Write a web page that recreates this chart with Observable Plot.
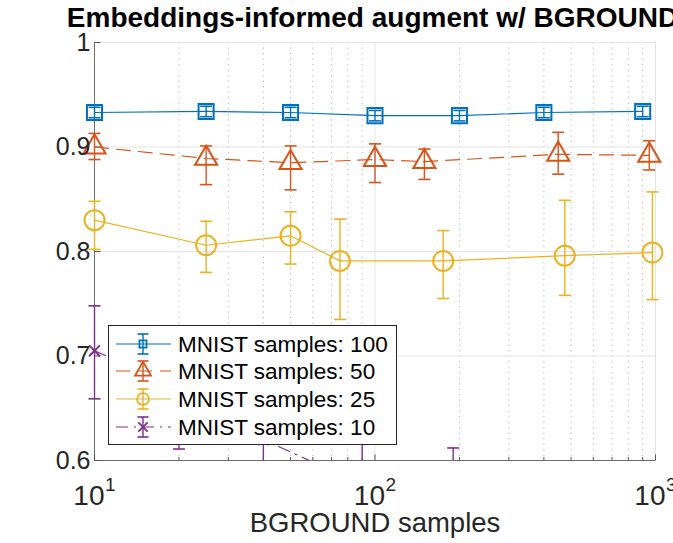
<!DOCTYPE html>
<html><head><meta charset="utf-8">
<script src="https://cdn.jsdelivr.net/npm/d3@7"></script>
<script src="https://cdn.jsdelivr.net/npm/@observablehq/plot@0.6"></script>
<style>
body{margin:0;background:#fff;}
#wrap{position:relative;width:673px;height:543px;overflow:hidden;background:#fff;font-family:"Liberation Sans",Arial,Helvetica,sans-serif;}
#legend{position:absolute;left:108px;top:325px;width:287px;height:118px;background:#fff;border:1px solid #262626;}
#legend svg{position:absolute;left:0;top:0;}
</style></head>
<body><div id="wrap"></div>
<script>
const title = "Embeddings-informed augment w/ BGROUND";
const xLabel = "BGROUND samples";
const seriesNames = ["MNIST samples: 100", "MNIST samples: 50", "MNIST samples: 25", "MNIST samples: 10"];
const colors = ["#0072BD", "#D95319", "#EDB120", "#7E2F8E"];
const symbols = ["square", "triangle", "circle", "times"];

// MNIST samples: 100
const x100 = [10, 25, 50, 100, 200, 400, 900];
const mean100 = [0.933, 0.934, 0.933, 0.930, 0.930, 0.933, 0.934];
const lo100 = [0.928, 0.929, 0.928, 0.925, 0.925, 0.928, 0.929];
const hi100 = [0.938, 0.939, 0.938, 0.935, 0.935, 0.938, 0.939];
// MNIST samples: 50
const x50 = [10, 25, 50, 100, 150, 450, 950];
const mean50 = [0.900, 0.889, 0.885, 0.888, 0.886, 0.893, 0.892];
const lo50 = [0.888, 0.864, 0.859, 0.866, 0.869, 0.874, 0.878];
const hi50 = [0.913, 0.901, 0.901, 0.903, 0.898, 0.914, 0.906];
// MNIST samples: 25
const x25 = [10, 25, 50, 75, 175, 475, 975];
const mean25 = [0.830, 0.806, 0.815, 0.791, 0.791, 0.796, 0.799];
const lo25 = [0.802, 0.780, 0.788, 0.735, 0.755, 0.758, 0.754];
const hi25 = [0.848, 0.829, 0.838, 0.831, 0.820, 0.849, 0.857];
// MNIST samples: 10
const x10 = [10, 20, 40, 90, 190];
const mean10 = [0.705, 0.670, 0.620, 0.577, 0.550];
const lo10 = [0.659, 0.611, 0.550, 0.520, 0.490];
const hi10 = [0.748, 0.710, 0.690, 0.635, 0.612];

const yTicks = [0.6, 0.7, 0.8, 0.9, 1];
const yGrid = [0.7, 0.8, 0.9, 1];
const xMajor = [10, 100, 1000];
const xMinor = [20, 30, 40, 50, 60, 70, 80, 90, 200, 300, 400, 500, 600, 700, 800, 900];
const yMin = 0.6, yMax = 1;

const seriesData = [
  [x100, mean100, lo100, hi100],
  [x50, mean50, lo50, hi50],
  [x25, mean25, lo25, hi25],
  [x10, mean10, lo10, hi10]
].map(([xs, ms, los, his]) => xs.map((x, i) => ({x, y: ms[i], lo: los[i], hi: his[i]})));

const dashes = [null, "14,8", null, "12,6,2,6"];
const radii = [8.5, 8.2, 10, 5];

const capSym = {draw(ctx) { ctx.moveTo(-6, 0); ctx.lineTo(6, 0); }};
const yTickSym = {draw(ctx) { ctx.moveTo(0, 0); ctx.lineTo(6, 0); }};
const xMajorSym = {draw(ctx) { ctx.moveTo(0, 0); ctx.lineTo(0, -6); }};
const xMinorSym = {draw(ctx) { ctx.moveTo(0, 0); ctx.lineTo(0, -3.5); }};
const inView = v => v >= yMin && v <= yMax;

const marks = [
  Plot.ruleX(xMinor, {stroke: "#c2c2c2", strokeWidth: 1, strokeDasharray: "1.5,4"}),
  Plot.ruleX([100, 1000], {stroke: "#e3e3e3", strokeWidth: 1}),
  Plot.ruleY(yGrid, {stroke: "#e3e3e3", strokeWidth: 1}),
  Plot.ruleX([10], {stroke: "#6e6e6e", strokeWidth: 1}),
  Plot.ruleY([0.6], {stroke: "#6e6e6e", strokeWidth: 1}),
  Plot.dot(yTicks, {y: d => d, frameAnchor: "left", symbol: yTickSym, r: 3, stroke: "#555", strokeWidth: 1}),
  Plot.dot(xMajor, {x: d => d, frameAnchor: "bottom", symbol: xMajorSym, r: 3, stroke: "#555", strokeWidth: 1}),
  Plot.dot(xMinor, {x: d => d, frameAnchor: "bottom", symbol: xMinorSym, r: 3, stroke: "#555", strokeWidth: 1})
];

seriesData.forEach((data, k) => {
  marks.push(
    Plot.line(data, {x: "x", y: "y", stroke: colors[k], strokeWidth: 1.2, strokeDasharray: dashes[k], clip: true}),
    Plot.ruleX(data.filter(d => d.hi >= yMin), {x: "x", y1: d => Math.max(d.lo, yMin), y2: "hi", stroke: colors[k], strokeWidth: 1.4}),
    Plot.dot(data.filter(d => inView(d.lo)), {x: "x", y: "lo", symbol: capSym, r: 3, stroke: colors[k], strokeWidth: 1.6, fill: "none"}),
    Plot.dot(data.filter(d => inView(d.hi)), {x: "x", y: "hi", symbol: capSym, r: 3, stroke: colors[k], strokeWidth: 1.6, fill: "none"}),
    Plot.dot(data.filter(d => inView(d.y)), {x: "x", y: "y", symbol: symbols[k], r: radii[k], stroke: colors[k], strokeWidth: 2, fill: "none"})
  );
});

marks.push(
  Plot.axisY({ticks: yTicks, tickSize: 0, tickPadding: 4, fontSize: 25, label: null,
    tickFormat: d => d === 1 ? "1" : d.toFixed(1)}),
  Plot.axisX({ticks: [], label: null}),
  Plot.text(xMajor, {x: d => d, frameAnchor: "bottom", text: d => "10", textAnchor: "end", dx: 10, dy: 25,
    lineAnchor: "top", fontSize: 28, fill: "#262626"}),
  Plot.text(xMajor, {x: d => d, frameAnchor: "bottom", text: d => String(Math.round(Math.log10(d))),
    textAnchor: "start", dx: 10.5, dy: 17, lineAnchor: "top", fontSize: 19, fill: "#262626"}),
  Plot.text([xLabel], {frameAnchor: "bottom", dy: 52, lineAnchor: "top", fontSize: 27.5, fill: "#262626"}),
  Plot.text([title], {frameAnchor: "top", dx: -2.5, dy: -35, lineAnchor: "top", fontSize: 28, fontWeight: "bold", fill: "#000"})
);

const plot = Plot.plot({
  width: 673, height: 543,
  marginLeft: 94, marginRight: 18, marginTop: 42, marginBottom: 83,
  x: {type: "log", domain: [10, 1000]},
  y: {domain: [yMin, yMax]},
  style: {fontFamily: "'Liberation Sans', Arial, Helvetica, sans-serif", color: "#262626", background: "#fff", overflow: "visible"},
  marks
});
const wrap = document.getElementById("wrap");
wrap.appendChild(plot);

// legend
const legend = document.createElement("div");
legend.id = "legend";
wrap.appendChild(legend);
const lsvg = d3.select(legend).append("svg").attr("width", 287).attr("height", 118);
const rowY = [18, 45, 73, 101];
const legSizes = [50, 110, 110, 60];
seriesNames.forEach((name, k) => {
  const g = lsvg.append("g").attr("transform", `translate(0,${rowY[k]})`);
  g.append("line").attr("x1", 7).attr("x2", 62).attr("y1", 0).attr("y2", 0)
    .attr("stroke", colors[k]).attr("stroke-width", 1.2).attr("stroke-dasharray", dashes[k]);
  g.append("line").attr("x1", 34).attr("x2", 34).attr("y1", -10).attr("y2", 10)
    .attr("stroke", colors[k]).attr("stroke-width", 1.4);
  [-10, 10].forEach(cy => g.append("line").attr("x1", 28.5).attr("x2", 39.5).attr("y1", cy).attr("y2", cy)
    .attr("stroke", colors[k]).attr("stroke-width", 1.6));
  const symType = {square: d3.symbolSquare, triangle: d3.symbolTriangle, circle: d3.symbolCircle, times: d3.symbolTimes}[symbols[k]];
  g.append("path").attr("d", d3.symbol(symType, legSizes[k])()).attr("transform", "translate(34,0)")
    .attr("fill", "none").attr("stroke", colors[k]).attr("stroke-width", 1.8);
  g.append("text").attr("x", 69).attr("y", 0).attr("dy", "0.35em").attr("font-size", 22.5)
    .attr("fill", "#000").attr("font-family", "'Liberation Sans', Arial, sans-serif").text(name);
});
</script>
</body></html>
